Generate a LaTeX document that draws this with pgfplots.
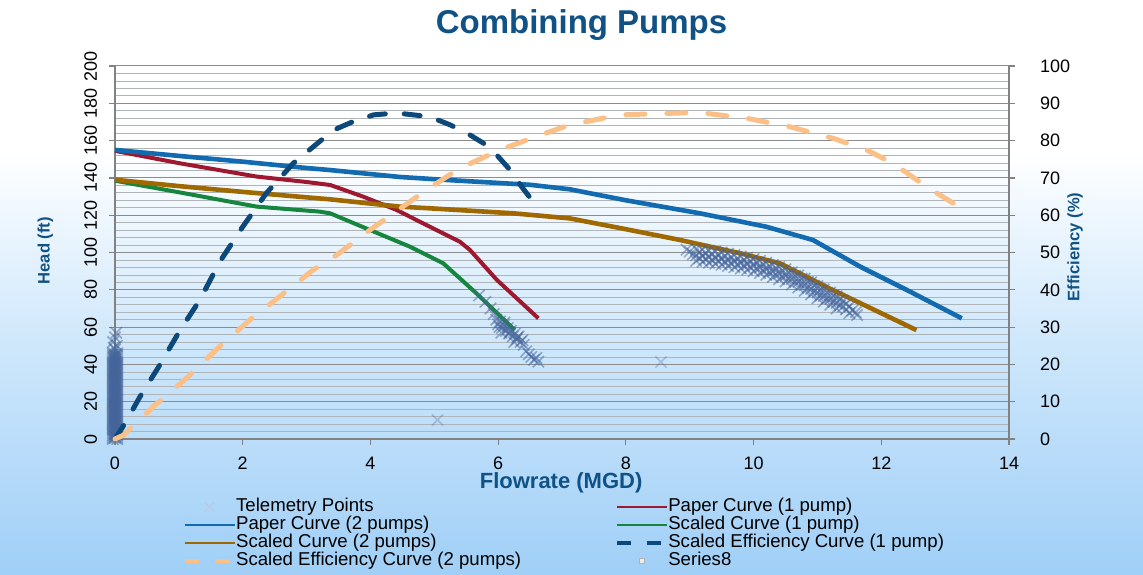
\documentclass[border=0pt]{standalone}
\usepackage{fontspec}
\setmainfont{Liberation Sans}
\usepackage{pgfplots}
\pgfplotsset{compat=1.18}

\definecolor{bgbot}{RGB}{160,207,247}
\definecolor{bgmid}{RGB}{206,231,251}
\definecolor{ttl}{RGB}{16,82,133}
\definecolor{paperone}{RGB}{158,24,48}
\definecolor{papertwo}{RGB}{18,106,176}
\definecolor{scaledone}{RGB}{22,134,62}
\definecolor{scaledtwo}{RGB}{160,104,0}
\definecolor{effone}{RGB}{12,72,122}
\definecolor{efftwo}{RGB}{250,192,135}
\definecolor{telem}{RGB}{68,100,155}
\definecolor{telemlight}{RGB}{185,205,228}
\definecolor{gridmaj}{RGB}{140,140,140}
\definecolor{gridmin}{RGB}{175,180,185}
\definecolor{axgray}{RGB}{130,130,130}

\pgfdeclareverticalshading{chartbg}{100bp}{color(0bp)=(bgbot); color(25bp)=(bgbot); color(45bp)=(bgmid); color(62bp)=(white); color(100bp)=(white)}

\pgfplotsset{
  pumpaxis/.style={
    scale only axis, width=447pt, height=186.5pt,
    at={(57.5pt,67.5pt)}, anchor=south west,
    xmin=0, xmax=14, clip=false,
    tick align=outside, major tick length=3pt, minor tick length=0pt,
    tick style={axgray, line width=0.6pt},
    axis line style={axgray, line width=0.7pt},
    tick label style={font=\fontsize{9}{10}\selectfont},
    /pgf/number format/assume math mode=true,
  },
  telemstyle/.style={only marks, mark=x, mark size=4pt, color=telem, opacity=0.5, line width=0.8pt, forget plot},
}

\begin{document}
\begin{tikzpicture}
\shade[shading=chartbg] (0pt,0pt) rectangle (571.5pt,287pt);
\node[anchor=base, font=\bfseries\fontsize{16.5}{18}\selectfont, text=ttl] at (290.75pt,270.3pt) {Combining Pumps};

\begin{axis}[pumpaxis,
  ymin=0, ymax=200, xtick={0,2,...,14}, ytick={0,20,...,200},
  minor y tick num=4, ymajorgrids, yminorgrids,
  major grid style={gridmaj, line width=0.5pt},
  minor grid style={gridmin, line width=0.35pt},
  axis x line*=bottom, axis y line*=left,
  yticklabel style={rotate=90, anchor=south, yshift=2.5pt},
  xticklabel style={yshift=-2.5pt},
  xlabel={Flowrate (MGD)}, ylabel={Head (ft)},
  every axis x label/.style={at={(axis description cs:0.499,-0.117)}, anchor=center,
    font=\bfseries\fontsize{11}{12}\selectfont, text=ttl},
  every axis y label/.style={at={(axis description cs:-0.078,0.505)}, rotate=90, anchor=center,
    font=\bfseries\fontsize{8.3}{10}\selectfont, text=ttl},
]
% telemetry points, no pump running
\addplot[telemstyle] coordinates {
(-0.035,0)(-0.035,1)(-0.035,2)(-0.035,3)(-0.035,4)(-0.035,5)(-0.035,6)(-0.035,7)(-0.035,8)(-0.035,9)(-0.035,10)(-0.035,11)(-0.035,12)(-0.035,13)(-0.035,14)(-0.035,15)(-0.035,16)(-0.035,17)(-0.035,18)(-0.035,19)(-0.035,20)(-0.035,21)(-0.035,22)(-0.035,23)(-0.035,24)(-0.035,25)(-0.035,26)(-0.035,27)(-0.035,28)(-0.035,29)(-0.035,30)(-0.035,31)(-0.035,32)(-0.035,33)(-0.035,34)(-0.035,35)(-0.035,36)(-0.035,37)(-0.035,38)(-0.035,39)(-0.035,40)(-0.035,41)(-0.035,42)(-0.035,43)(-0.035,44)(-0.035,45)(-0.035,46)
(0.035,0)(0.035,1)(0.035,2)(0.035,3)(0.035,4)(0.035,5)(0.035,6)(0.035,7)(0.035,8)(0.035,9)(0.035,10)(0.035,11)(0.035,12)(0.035,13)(0.035,14)(0.035,15)(0.035,16)(0.035,17)(0.035,18)(0.035,19)(0.035,20)(0.035,21)(0.035,22)(0.035,23)(0.035,24)(0.035,25)(0.035,26)(0.035,27)(0.035,28)(0.035,29)(0.035,30)(0.035,31)(0.035,32)(0.035,33)(0.035,34)(0.035,35)(0.035,36)(0.035,37)(0.035,38)(0.035,39)(0.035,40)(0.035,41)(0.035,42)(0.035,43)(0.035,44)(0.035,45)(0.035,46)
(0,0.5)(0,1.5)(0,2.5)(0,3.5)(0,4.5)(0,5.5)(0,6.5)(0,7.5)(0,8.5)(0,9.5)(0,10.5)(0,11.5)(0,12.5)(0,13.5)(0,14.5)(0,15.5)(0,16.5)(0,17.5)(0,18.5)(0,19.5)(0,20.5)(0,21.5)(0,22.5)(0,23.5)(0,24.5)(0,25.5)(0,26.5)(0,27.5)(0,28.5)(0,29.5)(0,30.5)(0,31.5)(0,32.5)(0,33.5)(0,34.5)(0,35.5)(0,36.5)(0,37.5)(0,38.5)(0,39.5)(0,40.5)(0,41.5)(0,42.5)(0,43.5)(0,44.5)(0,45.5)
(0,48)(0.03,50)(-0.03,52)(0,54.5)(0.02,57)(-0.02,49)
};
% telemetry, one pump running
\addplot[telemstyle] coordinates {
(5.70,77)(5.80,73.5)(5.88,70)(5.93,67)(5.97,64)(6.00,61.5)(6.03,63)(6.06,59.5)(6.09,61)(6.12,58)(6.15,59.5)(6.17,56.5)(6.20,58)(6.23,55)(6.26,56.5)(6.29,53.5)(6.32,55)(6.35,52)(6.38,53)(6.40,50.5)(6.44,47)(6.48,45.5)(6.52,44)(6.56,42.5)(6.60,43.5)(6.63,41.5)(6.05,57)(6.25,52)(6.1,62.5)(6.18,57)(6.3,54.5)(6.02,60)
};
\addplot[telemstyle, opacity=0.3] coordinates {(5.05,10.2)(8.55,41.3)};
% telemetry, two pumps running
\addplot[telemstyle] coordinates {
(8.95,101.5)(9.0,100.5)(9.05,99)
(9.1,102)(9.15,100.25)(9.1,98.5)(9.15,97)(9.1,95.5)
(9.2,101.5)(9.25,99.75)(9.2,98)(9.25,96.5)(9.2,95)
(9.3,101)(9.35,99.25)(9.3,97.5)(9.35,96)(9.3,94.5)
(9.4,100.5)(9.45,98.75)(9.4,97)(9.45,95.5)(9.4,94)
(9.5,100)(9.55,98.25)(9.5,96.5)(9.55,95)(9.5,93.5)
(9.6,99.3)(9.65,97.55)(9.6,95.8)(9.65,94.3)(9.6,92.8)
(9.7,98.6)(9.75,96.85)(9.7,95.1)(9.75,93.6)(9.7,92.1)
(9.8,97.9)(9.85,96.15)(9.8,94.4)(9.85,92.9)(9.8,91.4)
(9.9,97.2)(9.95,95.45)(9.9,93.7)(9.95,92.2)(9.9,90.7)
(10,96.5)(10.05,94.75)(10,93)(10.05,91.5)(10,90)
(10.1,95.5)(10.15,93.75)(10.1,92)(10.15,90.5)(10.1,89)
(10.2,94.5)(10.25,92.75)(10.2,91)(10.25,89.5)(10.2,88)
(10.3,93.3)(10.35,91.55)(10.3,89.8)(10.35,88.3)(10.3,86.8)
(10.4,92.2)(10.45,90.45)(10.4,88.7)(10.45,87.2)(10.4,85.7)
(10.5,91)(10.55,89.25)(10.5,87.5)(10.55,86)(10.5,84.5)
(10.6,89.3)(10.65,87.55)(10.6,85.8)(10.65,84.3)(10.6,82.8)
(10.7,87.7)(10.75,85.95)(10.7,84.2)(10.75,82.7)(10.7,81.2)
(10.8,86)(10.85,84.25)(10.8,82.5)(10.85,81)(10.8,79.5)
(10.9,84)(10.95,82.25)(10.9,80.5)(10.95,79)(10.9,77.5)
(11,82)(11.05,80.25)(11,78.5)(11.05,77)(11,75.5)
(11.1,80.2)(11.15,78.45)(11.1,76.7)(11.15,75.2)(11.1,73.7)
(11.2,78.5)(11.25,76.75)(11.2,75)(11.25,73.5)(11.2,72)
(11.3,76.5)(11.35,74.75)(11.3,73)(11.35,71.5)(11.3,70)
(11.4,74)(11.45,72.5)(11.4,71)(11.45,69.5)
(11.5,71)(11.55,69)(11.5,67.5)
(11.6,68)(11.62,66.5)
};
% Paper Curve (1 pump)
\addplot[paperone, line width=2pt, line join=round] coordinates {
(0,154.5)(1.02,147.8)(2.22,140.7)(3.0,137.8)(3.37,136.2)(3.89,129.9)(4.41,122.8)(4.93,113.8)(5.40,105.8)(5.56,101.3)(5.98,85.3)(6.63,64.7)
};
% Paper Curve (2 pumps)
\addplot[papertwo, line width=2.3pt, line join=round] coordinates {
(0,155)(1,151.8)(2,148.7)(3,145.3)(3.37,144.2)(4.46,140.5)(5.19,138.9)(6.0,137.3)(6.5,136.3)(7.12,133.9)(8,128)(9.16,121)(10.2,113.8)(10.93,106.7)(11.67,92.4)(12.4,79.9)(13.26,64.7)
};
% Scaled Curve (1 pump)
\addplot[scaledone, line width=2pt, line join=round] coordinates {
(0,138.5)(1.0,132.3)(2.22,124.6)(3.21,121.9)(3.37,121)(3.99,112.1)(4.62,103.1)(5.14,94.2)(5.66,78.1)(6.26,58.4)
};
% Scaled Curve (2 pumps)
\addplot[scaledtwo, line width=2.3pt, line join=round] coordinates {
(0,139)(1,135.6)(2,132.5)(3.37,128.5)(4.46,124.6)(4.93,123.7)(6.24,121)(7.12,118.3)(8,112.5)(8.85,106.7)(9.8,99.5)(10.41,94.2)(10.8,87.5)(11.2,80.5)(11.46,76.3)(12.55,58.4)
};
\end{axis}

\begin{axis}[pumpaxis,
  ymin=0, ymax=100, ytick={0,10,...,100},
  axis y line*=right, axis x line=none,
  yticklabel style={anchor=west, xshift=9pt},
  ylabel={Efficiency (\%)},
  every axis y label/.style={at={(axis description cs:1.074,0.515)}, rotate=90, anchor=center,
    font=\bfseries\fontsize{8.3}{10}\selectfont, text=ttl},
  legend columns=2, legend cell align=left,
  legend image code/.code={\draw[#1] (0pt,0pt) -- (25pt,0pt);},
  legend style={at={(0.076,-0.159)}, anchor=north west, draw=none, fill=none,
    inner sep=0pt, outer sep=0pt, font=\fontsize{9.3}{11}\selectfont,
    row sep=0.3pt, column sep=0pt,
    nodes={inner sep=0pt, text height=6.8pt, text depth=1.9pt},
    /tikz/every odd column/.append style={column sep=0pt},
    /tikz/every even column/.append style={column sep=47pt}},
]
% Scaled Efficiency Curve (1 pump)
\addplot[effone, line width=2.5pt, line cap=round, dash pattern=on 8pt off 9.5pt, forget plot] coordinates {
(0,0)(0.16,4.3)(0.39,11.3)(0.70,19.8)(1.02,29.2)(1.33,37.3)(1.64,47.5)(2.0,56.9)(2.37,65.9)(2.79,73.9)(3.42,82.8)(3.73,85.1)(4.05,86.9)(4.41,87.4)(4.93,86.4)(5.25,84.2)(5.56,81.5)(5.77,79.3)(5.98,76.1)(6.21,71.7)(6.37,67.6)(6.63,61.8)
};
% Scaled Efficiency Curve (2 pumps)
\addplot[efftwo, line width=2.5pt, line cap=round, dash pattern=on 9.5pt off 11pt, forget plot] coordinates {
(0,0)(0.13,1)(0.6,8.7)(1.12,16.3)(1.64,24.8)(2.11,31.9)(2.64,39)(3.1,45.3)(3.47,49.3)(3.99,56)(4.51,62.3)(4.88,66.8)(5.40,72.6)(6.03,77.5)(6.66,81.5)(7.12,84.2)(7.9,86.9)(8.85,87.4)(9.16,87.5)(9.89,86)(10.57,83.7)(11.25,80.6)(11.77,77.5)(12.14,74.3)(12.37,71.7)(12.71,67.6)(12.92,65.4)(13.26,61.8)
};
\addlegendimage{legend image code/.code={\draw[telemlight, line width=0.6pt, mark=x, mark size=3.2pt] plot coordinates {(12.5pt,0pt)};}}
\addlegendimage{paperone, line width=1.3pt}
\addlegendimage{papertwo, line width=1.3pt}
\addlegendimage{scaledone, line width=1.3pt}
\addlegendimage{scaledtwo, line width=1.3pt}
\addlegendimage{effone, line width=1.6pt, dash pattern=on 7pt off 8pt}
\addlegendimage{efftwo, line width=1.6pt, dash pattern=on 7pt off 8pt}
\addlegendimage{legend image code/.code={\draw[gray!60, fill=white, line width=0.4pt, mark=square*, mark size=1.1pt, mark options={fill=gray!15}] plot coordinates {(12.5pt,0pt)};}}
\legend{Telemetry Points, Paper Curve (1 pump), Paper Curve (2 pumps), Scaled Curve (1 pump), Scaled Curve (2 pumps), Scaled Efficiency Curve (1 pump), Scaled Efficiency Curve (2 pumps), Series8}
\end{axis}
\pgfresetboundingbox
\path[use as bounding box] (0pt,0pt) rectangle (571.5pt,287pt);
\end{tikzpicture}
\end{document}
